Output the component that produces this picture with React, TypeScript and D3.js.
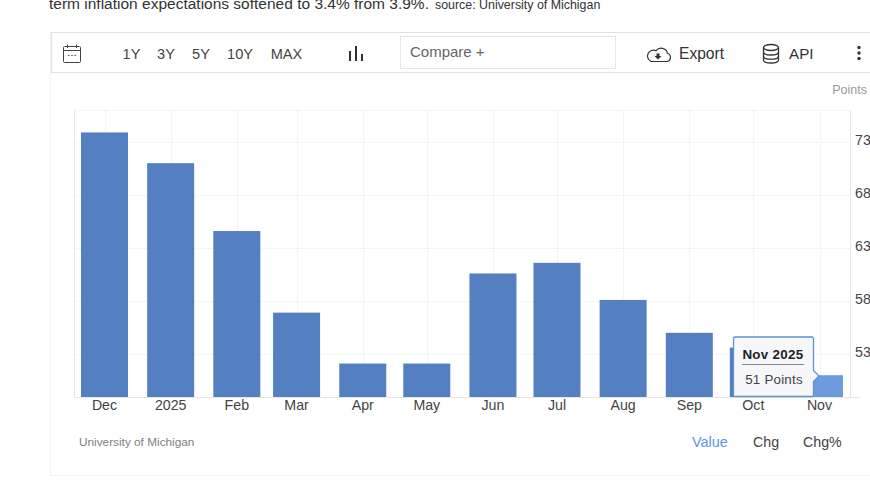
import React from "react";
import * as d3 from "d3";

const months = ["2024-12-01","2025-01-01","2025-02-01","2025-03-01","2025-04-01","2025-05-01","2025-06-01","2025-07-01","2025-08-01","2025-09-01","2025-10-01","2025-11-01"];
const tickLabels = ["Dec","2025","Feb","Mar","Apr","May","Jun","Jul","Aug","Sep","Oct","Nov"];
const values = [73.9, 71, 64.6, 56.9, 52.1, 52.1, 60.6, 61.6, 58.1, 55, 53.6, 51];
const yTicks = [53, 58, 63, 68, 73];
const ranges = ["1Y","3Y","5Y","10Y","MAX"];
const rangeX = [131.5, 166, 201, 240, 286.5];

const FONT = "'Liberation Sans', Arial, sans-serif";
const dates = months.map((m) => new Date(m + "T00:00:00Z"));

export default function App() {
  const x = d3.scaleUtc().domain([dates[0], dates[dates.length - 1]]).range([104.5, 819.5]);
  const y = d3.scaleLinear().domain([53, 73]).range([354, 142]);
  const bottom = 397;
  const top = 110;
  const barW = 47;
  const last = dates.length - 1;
  return (
    <svg width={870} height={496} style={{ position: "absolute", left: 0, top: 0 }} fontFamily={FONT}>
      <rect width={870} height={496} fill="#fff" />
      <text x={49} y={9} fontSize={15.5} fill="#333">term inflation expectations softened to 3.4% from 3.9%.</text>
      <text x={435} y={9} fontSize={12.4} fill="#333">source: University of Michigan</text>

      {/* card */}
      <path d="M870,475.5H50.5V32" fill="none" stroke="#f3f3f3" />
      {/* toolbar */}
      <path d="M870,32.5H51.5V72.5H870" fill="#fff" stroke="#e2e2e2" strokeWidth={1.2} />
      <g fill="none" stroke="#444" strokeWidth={1}>
        <rect x={63.5} y={46.5} width={17} height={16} rx={1} />
        <path d="M63.5,50.5H80.5M67.5,44.5V48M76.5,44.5V48" />
        <path d="M68,55.5h1.5M71.2,55.5h1.5M74.4,55.5h1.5" strokeWidth={1.2} />
      </g>
      {ranges.map((r, i) => (
        <text key={r} x={rangeX[i]} y={58.5} fontSize={14.6} textAnchor="middle" fill="#444">{r}</text>
      ))}
      <g stroke="#333" strokeWidth={2}>
        <path d="M350,51V61M356,46V61M362,54V61" />
      </g>
      <rect x={400.5} y={36.5} width={215} height={32} fill="#fff" stroke="#e6e6e6" />
      <text x={410} y={57} fontSize={15} fill="#666">Compare +</text>
      <g fill="none" stroke="#333" strokeWidth={1.2} transform="translate(-2,0)">
        <path d="M653,61.5h15.5a4.2,4.2,0,0,0,1,-8.2a6.5,6.5,0,0,0,-11.5,-2.6a5,5,0,0,0,-5,10.8z" />
      </g>
      <path d="M656.5,53.5h3v2.5h2l-3.5,3.5l-3.5,-3.5h2z" fill="#333" />
      <text x={679} y={59} fontSize={15.6} fill="#333">Export</text>
      <g fill="none" stroke="#333" strokeWidth={1.3}>
        <ellipse cx={771} cy={47.5} rx={7.5} ry={3} />
        <path d="M763.5,47.5V60c0,1.8,3.4,3,7.5,3s7.5,-1.2,7.5,-3V47.5" />
        <path d="M763.5,52c0,1.8,3.4,3,7.5,3s7.5,-1.2,7.5,-3M763.5,56.2c0,1.8,3.4,3,7.5,3s7.5,-1.2,7.5,-3" />
      </g>
      <text x={789} y={58.5} fontSize={15.2} fill="#333">API</text>
      <g fill="#333">
        <circle cx={859} cy={47.5} r={1.7} />
        <circle cx={859} cy={53} r={1.7} />
        <circle cx={859} cy={58.5} r={1.7} />
      </g>

      <text x={867} y={94} fontSize={12.5} textAnchor="end" fill="#999">Points</text>

      {/* grid */}
      <g stroke="#ececec" strokeWidth={1} strokeDasharray="1 1">
        <line x1={74} x2={850} y1={top + 0.5} y2={top + 0.5} />
        {yTicks.map((t) => (
          <line key={t} x1={74} x2={850} y1={Math.round(y(t)) + 0.5} y2={Math.round(y(t)) + 0.5} />
        ))}
        {dates.map((d, i) => (
          <line key={i} x1={Math.round(x(d)) + 0.5} x2={Math.round(x(d)) + 0.5} y1={top} y2={bottom} />
        ))}
      </g>
      <line x1={74.5} x2={74.5} y1={top} y2={bottom} stroke="#e6e6e6" />
      <line x1={850.5} x2={850.5} y1={top} y2={bottom} stroke="#e6e6e6" />
      <line x1={74} x2={860} y1={397.5} y2={397.5} stroke="#e6e6e6" />

      {/* bars */}
      {dates.map((d, i) => (
        <rect key={i} x={x(d) - barW / 2} width={barW} y={y(values[i])} height={bottom - y(values[i])} fill={i === last ? "#6e9bdc" : "#547fc0"} />
      ))}

      {/* axes labels */}
      {dates.map((d, i) => (
        <text key={i} x={x(d)} y={410} fontSize={14.2} textAnchor="middle" fill="#444">{tickLabels[i]}</text>
      ))}
      {yTicks.map((t) => (
        <text key={t} x={855} y={y(t) + 3} fontSize={14.2} fill="#444">{t}</text>
      ))}

      <text x={79} y={446} fontSize={11.8} fill="#808080">University of Michigan</text>
      <text x={692} y={447} fontSize={14.4} fill="#5b96e6">Value</text>
      <text x={753} y={447} fontSize={14.2} fill="#444">Chg</text>
      <text x={803} y={447} fontSize={14.2} fill="#444">Chg%</text>

      {/* tooltip */}
      <path
        d="M735,337H812a1.5,1.5,0,0,1,1.5,1.5V370.5L819,376L813.5,381.5V395a1.5,1.5,0,0,1,-1.5,1.5H735a1.5,1.5,0,0,1,-1.5,-1.5V338.5a1.5,1.5,0,0,1,1.5,-1.5Z"
        fill="#f5f7fa"
        stroke="#5d93cf"
        strokeWidth={1.3}
      />
      <text x={773} y={359} fontSize={13.4} fontWeight="bold" textAnchor="middle" fill="#222" letterSpacing={0.3}>Nov 2025</text>
      <line x1={742} x2={804} y1={364.5} y2={364.5} stroke="#888" />
      <text x={774} y={384} fontSize={13.4} textAnchor="middle" fill="#444" letterSpacing={0.2}>{values[last]} Points</text>
    </svg>
  );
}
